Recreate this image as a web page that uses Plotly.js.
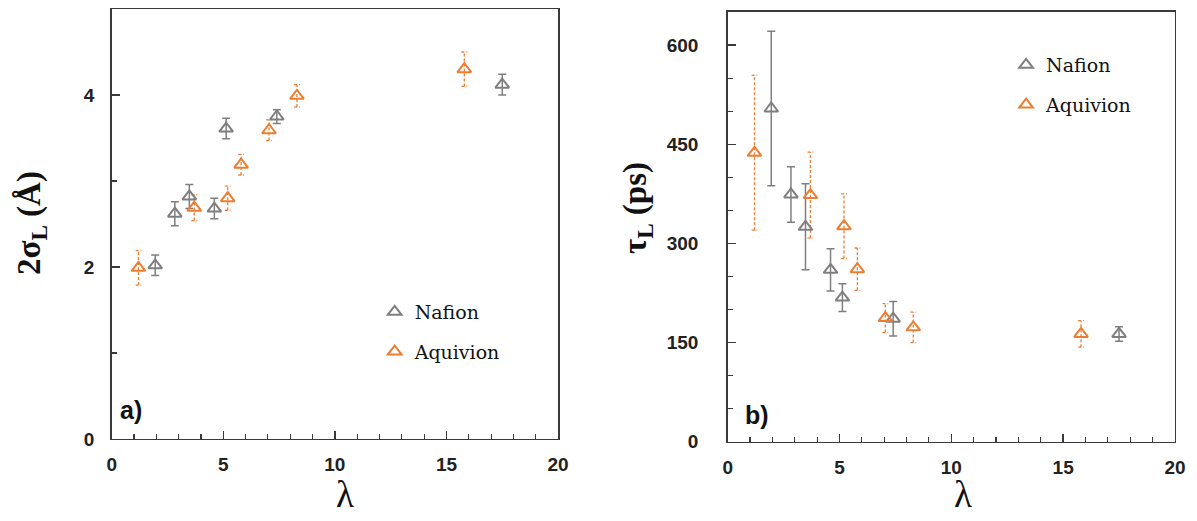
<!DOCTYPE html>
<html>
<head>
<meta charset="utf-8">
<script src="https://cdn.plot.ly/plotly-3.0.1.min.js"></script>
<style>html,body{margin:0;padding:0;background:#fff;}#chart{width:1197px;height:521px;}</style>
</head>
<body>
<div id="chart"></div>
<script>
// ---- data ----
const SERIES_NAMES = ['Nafion', 'Aquivion'];
const NAF_X = [1.95, 2.83, 3.48, 4.60, 5.13, 7.40, 17.50];
const AQU_X = [1.20, 3.70, 5.20, 5.80, 7.05, 8.30, 15.80];
// panel a) 2σL (Å)
const NAF_SIG = [2.02, 2.62, 2.82, 2.68, 3.61, 3.75, 4.12];
const NAF_SIG_ERR = [0.12, 0.14, 0.14, 0.12, 0.12, 0.08, 0.12];
const AQU_SIG = [1.99, 2.69, 2.80, 3.19, 3.59, 3.99, 4.30];
const AQU_SIG_ERR = [0.20, 0.15, 0.14, 0.12, 0.12, 0.13, 0.20];
// panel b) τL (ps)
const NAF_TAU = [504, 374, 325, 260, 218, 186, 163];
const NAF_TAU_ERR = [117, 42, 65, 32, 21, 26, 11];
const AQU_TAU = [437, 373, 326, 261, 187, 173, 163];
const AQU_TAU_ERR = [117, 65, 49, 32, 22, 23, 20];
const X_TICKS = [0, 5, 10, 15, 20];
const Y_TICKS_A = [0, 2, 4];
const Y_TICKS_B = [0, 150, 300, 450, 600];

// ---- styles ----
const GRAY = '#7f7f7f';
const ORANGE = '#ed7d31';
const AXIS_COLOR = '#3a3a3a';
const CAP = 0.13; // half-width of dashed error caps, in λ units
const TICK_FONT = {family: 'Liberation Sans, Arial, sans-serif', size: 19, color: '#222'};
const LEG_FONT = {family: 'DejaVu Serif, serif', size: 19, color: '#111'};
const YTITLE_FONT = {family: 'Liberation Serif, serif', size: 33, color: '#111'};
const XTITLE_FONT = {family: 'Liberation Serif, serif', size: 37, color: '#111'};

function bold(v) { return '<b>' + v + '</b>'; }

function dashedErrors(xs, ys, es) {
  const X = [], Y = [];
  for (let i = 0; i < xs.length; i++) {
    const x = xs[i], lo = ys[i] - es[i], hi = ys[i] + es[i];
    X.push(x, x, null, x - CAP, x + CAP, null, x - CAP, x + CAP, null);
    Y.push(lo, hi, null, hi, hi, null, lo, lo, null);
  }
  return {X, Y};
}

function panel(xa, ya, leg, nafY, nafE, aquY, aquE) {
  const d = dashedErrors(AQU_X, aquY, aquE);
  return [
    {x: d.X, y: d.Y, xaxis: xa, yaxis: ya, mode: 'lines', showlegend: false, hoverinfo: 'skip',
     line: {color: ORANGE, width: 1.3, dash: '3px,2px'}},
    {x: NAF_X, y: nafY, xaxis: xa, yaxis: ya, mode: 'markers', name: SERIES_NAMES[0], legend: leg, legendgroup: leg + 'n',
     marker: {symbol: 'triangle-up-open', size: 12, color: GRAY, line: {width: 2, color: GRAY}},
     error_y: {type: 'data', array: nafE, visible: true, color: GRAY, thickness: 1.5, width: 4}},
    {x: AQU_X, y: aquY, xaxis: xa, yaxis: ya, mode: 'markers', name: SERIES_NAMES[1], legend: leg, legendgroup: leg + 'a',
     marker: {symbol: 'triangle-up-open', size: 12, color: ORANGE, line: {width: 2, color: ORANGE}}}
  ];
}

const data = [].concat(
  panel('x', 'y', 'legend', NAF_SIG, NAF_SIG_ERR, AQU_SIG, AQU_SIG_ERR),
  panel('x2', 'y2', 'legend2', NAF_TAU, NAF_TAU_ERR, AQU_TAU, AQU_TAU_ERR)
);

function xAxis(domain, anchor) {
  return {
    domain: domain, anchor: anchor, range: [0, 20], tickvals: X_TICKS, ticktext: X_TICKS.map(bold),
    ticks: 'inside', ticklen: 8, tickwidth: 1.3, tickcolor: AXIS_COLOR,
    minor: {dtick: 1, tick0: 0, ticks: 'inside', ticklen: 5, tickwidth: 1.1, tickcolor: AXIS_COLOR, showgrid: false},
    showline: true, linecolor: AXIS_COLOR, linewidth: 1.5, mirror: true, showgrid: false, zeroline: false,
    tickfont: TICK_FONT, ticklabelstandoff: 8, automargin: false
  };
}

function yAxis(domain, anchor, range, ticks, minorStep, standoff) {
  return {
    domain: domain, anchor: anchor, range: range, tickvals: ticks, ticktext: ticks.map(bold),
    ticks: 'inside', ticklen: 8, tickwidth: 1.3, tickcolor: AXIS_COLOR,
    minor: {dtick: minorStep, tick0: 0, ticks: 'inside', ticklen: 5, tickwidth: 1.1, tickcolor: AXIS_COLOR, showgrid: false},
    showline: true, linecolor: AXIS_COLOR, linewidth: 1.5, mirror: true, showgrid: false, zeroline: false,
    tickfont: TICK_FONT, ticklabelstandoff: standoff, automargin: false
  };
}

const layout = {
  width: 1197, height: 521,
  margin: {l: 0, r: 0, t: 0, b: 0},
  paper_bgcolor: '#fff', plot_bgcolor: '#fff',
  xaxis: xAxis([0.0933, 0.4662], 'y'),
  xaxis2: xAxis([0.6079, 0.9816], 'y2'),
  yaxis: yAxis([0.1574, 0.9827], 'x', [0, 5], Y_TICKS_A, 1, 12),
  yaxis2: yAxis([0.1522, 0.977], 'x2', [0, 650], Y_TICKS_B, 50, 24),
  legend: {x: 0.313, y: 0.4376, xanchor: 'left', yanchor: 'top', bgcolor: 'rgba(0,0,0,0)', font: LEG_FONT, tracegroupgap: 12},
  legend2: {x: 0.8405, y: 0.9117, xanchor: 'left', yanchor: 'top', bgcolor: 'rgba(0,0,0,0)', font: LEG_FONT, tracegroupgap: 12},
  annotations: [
    {text: '<b>2σ<sub>L</sub> (Å)</b>', xref: 'paper', yref: 'paper', x: 31 / 1197, y: 1 - 223 / 521,
     xanchor: 'center', yanchor: 'middle', textangle: -90, showarrow: false, font: YTITLE_FONT},
    {text: '<b>τ<sub>L</sub> (ps)</b>', xref: 'paper', yref: 'paper', x: 637 / 1197, y: 1 - 208 / 521,
     xanchor: 'center', yanchor: 'middle', textangle: -90, showarrow: false, font: YTITLE_FONT},
    {text: 'λ', xref: 'paper', yref: 'paper', x: 345 / 1197, y: 1 - 473 / 521,
     xanchor: 'center', yanchor: 'top', showarrow: false, borderpad: 0, font: XTITLE_FONT},
    {text: 'λ', xref: 'paper', yref: 'paper', x: 963 / 1197, y: 1 - 473 / 521,
     xanchor: 'center', yanchor: 'top', showarrow: false, borderpad: 0, font: XTITLE_FONT},
    {text: '<b>a)</b>', xref: 'paper', yref: 'paper', x: 0.0986, y: 0.213, xanchor: 'left', yanchor: 'middle', showarrow: false,
     font: {family: 'Liberation Sans, Arial, sans-serif', size: 25, color: '#111'}},
    {text: '<b>b)</b>', xref: 'paper', yref: 'paper', x: 0.6207, y: 0.2035, xanchor: 'left', yanchor: 'middle', showarrow: false,
     font: {family: 'Liberation Sans, Arial, sans-serif', size: 25, color: '#111'}}
  ]
};

Plotly.newPlot('chart', data, layout, {staticPlot: true, displayModeBar: false});
</script>
</body>
</html>
